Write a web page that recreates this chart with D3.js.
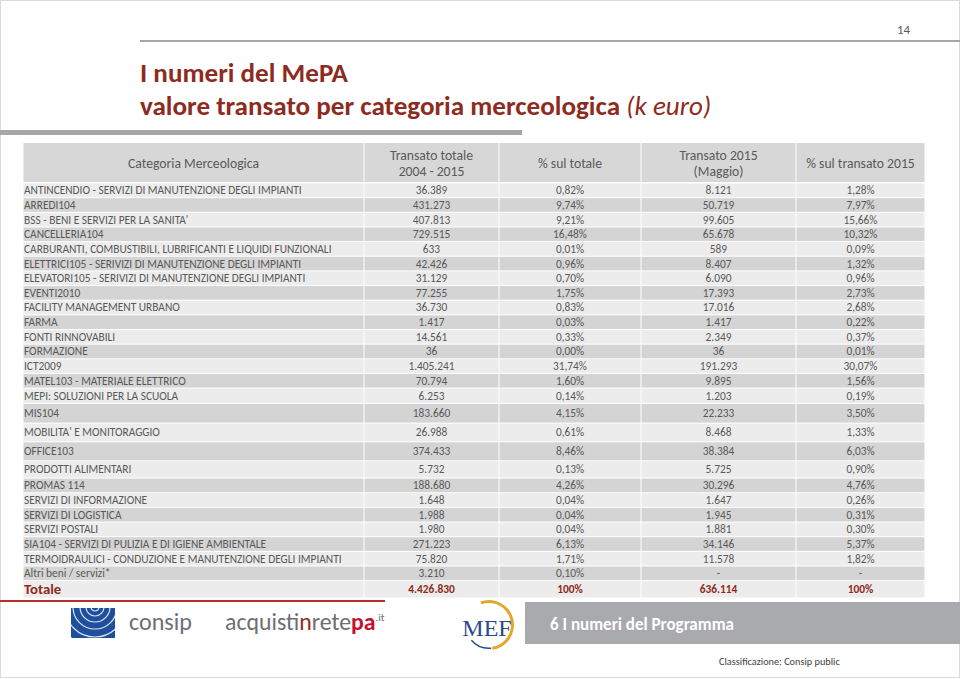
<!DOCTYPE html>
<html>
<head>
<meta charset="utf-8">
<script src="https://cdn.jsdelivr.net/npm/d3@7"></script>
<style>
  body { margin: 0; background: #fff; }
  svg { display: block; }
</style>
</head>
<body>
<div id="slide"></div>
<script>
const categories = [
  "ANTINCENDIO - SERVIZI DI MANUTENZIONE DEGLI IMPIANTI",
  "ARREDI104",
  "BSS - BENI E SERVIZI PER LA SANITA'",
  "CANCELLERIA104",
  "CARBURANTI, COMBUSTIBILI, LUBRIFICANTI E LIQUIDI FUNZIONALI",
  "ELETTRICI105 - SERIVIZI DI MANUTENZIONE DEGLI IMPIANTI",
  "ELEVATORI105 - SERIVIZI DI MANUTENZIONE DEGLI IMPIANTI",
  "EVENTI2010",
  "FACILITY MANAGEMENT URBANO",
  "FARMA",
  "FONTI RINNOVABILI",
  "FORMAZIONE",
  "ICT2009",
  "MATEL103 - MATERIALE ELETTRICO",
  "MEPI: SOLUZIONI PER LA SCUOLA",
  "MIS104",
  "MOBILITA' E MONITORAGGIO",
  "OFFICE103",
  "PRODOTTI ALIMENTARI",
  "PROMAS 114",
  "SERVIZI DI INFORMAZIONE",
  "SERVIZI DI LOGISTICA",
  "SERVIZI POSTALI",
  "SIA104 - SERVIZI DI PULIZIA E DI IGIENE AMBIENTALE",
  "TERMOIDRAULICI - CONDUZIONE E MANUTENZIONE DEGLI IMPIANTI",
  "Altri beni / servizi*"
];
const transatoTotale = [36389, 431273, 407813, 729515, 633, 42426, 31129, 77255, 36730, 1417,
  14561, 36, 1405241, 70794, 6253, 183660, 26988, 374433, 5732, 188680, 1648, 1988, 1980,
  271223, 75820, 3210];
const quotaTotale = [0.82, 9.74, 9.21, 16.48, 0.01, 0.96, 0.70, 1.75, 0.83, 0.03, 0.33, 0.00,
  31.74, 1.60, 0.14, 4.15, 0.61, 8.46, 0.13, 4.26, 0.04, 0.04, 0.04, 6.13, 1.71, 0.10];
const transato2015 = [8121, 50719, 99605, 65678, 589, 8407, 6090, 17393, 17016, 1417, 2349, 36,
  191293, 9895, 1203, 22233, 8468, 38384, 5725, 30296, 1647, 1945, 1881, 34146, 11578, null];
const quota2015 = [1.28, 7.97, 15.66, 10.32, 0.09, 1.32, 0.96, 2.73, 2.68, 0.22, 0.37, 0.01,
  30.07, 1.56, 0.19, 3.50, 1.33, 6.03, 0.90, 4.76, 0.26, 0.31, 0.30, 5.37, 1.82, null];
const totaleLabel = "Totale";
const totaleValues = [4426830, 100, 636114, 100];
const headerLabels = [
  ["Categoria Merceologica"],
  ["Transato totale", "2004 - 2015"],
  ["% sul totale"],
  ["Transato 2015", "(Maggio)"],
  ["% sul transato 2015"]
];

// layout
const W = 960, H = 679;
const FONT = "Carlito, Lato, 'Open Sans', sans-serif";
const colEdges = [23, 364, 499, 641, 796, 925];
const headerTop = 143, headerBottom = 183;
const rowDefault = 14.65;
const rowTall = {
  "MEPI: SOLUZIONI PER LA SCUOLA": 15.4,
  "MIS104": 19.6,
  "MOBILITA' E MONITORAGGIO": 18.7,
  "OFFICE103": 19,
  "PRODOTTI ALIMENTARI": 17.3,
  "Totale": 17.3
};
const red = "#8e2b21", textGray = "#595959";

const it = d3.formatLocale({decimal: ",", thousands: ".", grouping: [3], currency: ["€", ""]});
const fmtInt = it.format(",d");
const fmtPct = v => it.format(",.2f")(v) + "%";

const svg = d3.select("#slide").append("svg")
  .attr("width", W).attr("height", H)
  .attr("font-family", FONT);

// misura testo per scegliere la dimensione del font
const probe = svg.append("text").attr("font-size", 100).attr("visibility", "hidden");
function fitSize(str, weight, target, style) {
  probe.attr("font-weight", weight || "normal").attr("font-style", style || "normal").text(str);
  return 100 * target / probe.node().getComputedTextLength();
}

// cornice della slide
svg.append("rect").attr("x", 0.5).attr("y", 0.5).attr("width", W - 1).attr("height", 677)
  .attr("fill", "none").attr("stroke", "#dadada");

// numero pagina e linea
svg.append("text").attr("x", 910).attr("y", 34).attr("text-anchor", "end")
  .attr("font-size", fitSize("14", "normal", 13)).attr("fill", textGray).text("14");
svg.append("line").attr("x1", 140).attr("x2", W).attr("y1", 41).attr("y2", 41)
  .attr("stroke", "#a6a6a6").attr("stroke-width", 2);

// titolo
const titleSize = fitSize("I numeri del MePA", "bold", 208);
svg.append("text").attr("x", 140).attr("y", 82).attr("font-size", titleSize)
  .attr("font-weight", "bold").attr("fill", red).text("I numeri del MePA");
const t2 = svg.append("text").attr("x", 140).attr("y", 115).attr("font-size", titleSize).attr("fill", red);
t2.append("tspan").attr("font-weight", "bold").text("valore transato per categoria merceologica ");
t2.append("tspan").attr("font-style", "italic").text("(k euro)");

svg.append("rect").attr("x", 0).attr("y", 130).attr("width", 522).attr("height", 5).attr("fill", "#a6a6a6");

// righe della tabella
const rows = categories.map((c, i) => ({
  label: c,
  cells: [fmtInt(transatoTotale[i]), fmtPct(quotaTotale[i]),
          transato2015[i] == null ? "-" : fmtInt(transato2015[i]),
          quota2015[i] == null ? "-" : fmtPct(quota2015[i])],
  total: false
}));
rows.push({
  label: totaleLabel,
  cells: [fmtInt(totaleValues[0]), fmtInt(totaleValues[1]) + "%", fmtInt(totaleValues[2]), fmtInt(totaleValues[3]) + "%"],
  total: true
});
let yAcc = headerBottom;
rows.forEach(r => { r.y = yAcc; r.h = rowTall[r.label] || rowDefault; yAcc += r.h; });

const x = d3.scaleOrdinal().domain(d3.range(6)).range(colEdges);
const colMid = j => (x(j) + x(j + 1)) / 2;

const bodySize = fitSize(categories[0], "normal", 278);
const headSize = fitSize(headerLabels[0][0], "normal", 131);

// intestazione
const head = svg.append("g");
head.selectAll("rect").data(headerLabels).join("rect")
  .attr("x", (d, j) => x(j) + 0.5).attr("y", headerTop)
  .attr("width", (d, j) => x(j + 1) - x(j) - 1).attr("height", headerBottom - headerTop - 1)
  .attr("fill", "#d7d7d7");
head.selectAll("text").data(headerLabels).join("text")
  .attr("x", (d, j) => colMid(j)).attr("text-anchor", "middle")
  .attr("font-size", headSize).attr("fill", textGray)
  .each(function(d) {
    const mid = (headerTop + headerBottom) / 2;
    d3.select(this).selectAll("tspan").data(d).join("tspan")
      .attr("x", this.getAttribute("x"))
      .attr("y", (s, k) => mid + (k - (d.length - 1) / 2) * 16)
      .attr("dy", "0.35em").text(s => s);
  });

// corpo
const body = svg.append("g");
const rowG = body.selectAll("g").data(rows).join("g")
  .attr("transform", d => `translate(0,${d.y})`);
rowG.selectAll("rect").data((d, i) => d3.range(5).map(j => ({j, h: d.h, i}))).join("rect")
  .attr("x", d => x(d.j) + 0.5).attr("y", 0.5)
  .attr("width", d => x(d.j + 1) - x(d.j) - 1).attr("height", d => d.h - 1)
  .attr("fill", d => d.i % 2 === 0 ? "#ececec" : "#d4d4d4");
rowG.append("text")
  .attr("x", x(0) + 1).attr("y", d => d.h / 2).attr("dy", "0.35em")
  .attr("font-size", d => d.total ? bodySize * 1.3 : bodySize)
  .attr("font-weight", d => d.total ? "bold" : "normal")
  .attr("fill", d => d.total ? red : textGray)
  .text(d => d.label);
rowG.selectAll("text.v").data(d => d.cells.map((c, j) => ({c, j: j + 1, h: d.h, total: d.total}))).join("text")
  .attr("class", "v")
  .attr("x", d => colMid(d.j)).attr("y", d => d.h / 2).attr("dy", "0.35em")
  .attr("text-anchor", "middle").attr("font-size", bodySize)
  .attr("font-weight", d => d.total ? "bold" : "normal")
  .attr("fill", d => d.total ? red : textGray)
  .text(d => d.c);

// piè di pagina
svg.append("line").attr("x1", 0).attr("x2", 385).attr("y1", 601).attr("y2", 601)
  .attr("stroke", "#b8302b").attr("stroke-width", 2);

// logo consip
const clip = svg.append("clipPath").attr("id", "cl");
clip.append("rect").attr("x", 71).attr("y", 608).attr("width", 44).attr("height", 30);
svg.append("rect").attr("x", 71).attr("y", 608).attr("width", 44).attr("height", 30).attr("fill", "#1d4f9c");
svg.append("g").attr("clip-path", "url(#cl)").selectAll("circle").data([4, 9, 15, 22, 30, 39]).join("circle")
  .attr("cx", 95).attr("cy", 607).attr("r", d => d)
  .attr("fill", "none").attr("stroke", "#fff").attr("stroke-width", 1.2).attr("opacity", 0.85);
svg.append("text").attr("x", 129).attr("y", 630)
  .attr("font-size", fitSize("consip", "normal", 63)).attr("fill", "#6d6f72").text("consip");

const aq = svg.append("text").attr("x", 225).attr("y", 630).attr("font-size", fitSize("acquistinretepa", "normal", 150)).attr("fill", "#6d6f72");
aq.append("tspan").text("acquist");
aq.append("tspan").attr("fill", red).text("in");
aq.append("tspan").text("rete");
aq.append("tspan").attr("fill", "#c8102e").attr("font-weight", "bold").text("pa");
aq.append("tspan").attr("font-size", 11).attr("dy", -9).text(".it");

// logo MEF
const arc = d3.arc();
svg.append("path").attr("transform", "translate(489,625)")
  .attr("d", arc({innerRadius: 22, outerRadius: 25, startAngle: -0.35, endAngle: 3.0}))
  .attr("fill", "#e3a82b");
svg.append("path").attr("transform", "translate(489,625)")
  .attr("d", arc({innerRadius: 22.5, outerRadius: 24, startAngle: 3.05, endAngle: 4.0}))
  .attr("fill", "#2a4a8e");
svg.append("text").attr("x", 487).attr("y", 636).attr("text-anchor", "middle")
  .attr("font-family", "'Liberation Serif', serif").attr("font-size", 24).attr("fill", "#2a4a8e").text("MEF");

svg.append("rect").attr("x", 525).attr("y", 602).attr("width", W - 525).attr("height", 42).attr("fill", "#a8aaad");
svg.append("text").attr("x", 550).attr("y", 624).attr("dy", "0.35em")
  .attr("font-size", fitSize("6 I numeri del Programma", "bold", 184)).attr("font-weight", "bold")
  .attr("fill", "#fff").text("6 I numeri del Programma");
svg.append("text").attr("x", 719).attr("y", 661).attr("dy", "0.35em")
  .attr("font-size", fitSize("Classificazione: Consip public", "normal", 121)).attr("fill", "#404040")
  .text("Classificazione: Consip public");

probe.remove();
</script>
</body>
</html>
